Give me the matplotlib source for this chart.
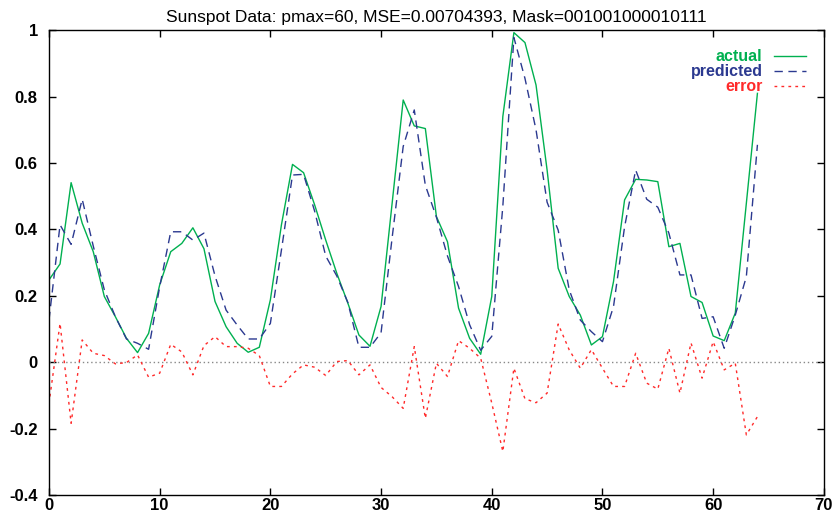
import matplotlib
matplotlib.use("Agg")
import matplotlib.pyplot as plt
from matplotlib.ticker import FuncFormatter

# Sunspot series (x = 0..64)
steps = list(range(65))

actual = [0.248, 0.296, 0.541, 0.419, 0.333, 0.198, 0.137, 0.072, 0.029, 0.087,
          0.233, 0.333, 0.358, 0.405, 0.342, 0.183, 0.107, 0.057, 0.030, 0.045,
          0.188, 0.414, 0.596, 0.571, 0.474, 0.368, 0.268, 0.178, 0.082, 0.048,
          0.168, 0.479, 0.790, 0.712, 0.704, 0.439, 0.363, 0.163, 0.072, 0.024,
          0.198, 0.740, 0.993, 0.963, 0.835, 0.579, 0.283, 0.198, 0.142, 0.052,
          0.077, 0.243, 0.489, 0.551, 0.549, 0.544, 0.348, 0.358, 0.198, 0.180,
          0.079, 0.065, 0.148, 0.479, 0.810]

predicted = [0.127, 0.414, 0.355, 0.491, 0.350, 0.218, 0.137, 0.070, 0.057, 0.039,
             0.227, 0.393, 0.393, 0.368, 0.389, 0.260, 0.157, 0.112, 0.070, 0.070,
             0.117, 0.338, 0.564, 0.566, 0.455, 0.320, 0.260, 0.180, 0.045, 0.045,
             0.089, 0.375, 0.650, 0.760, 0.533, 0.437, 0.320, 0.228, 0.113, 0.036,
             0.078, 0.470, 0.978, 0.855, 0.700, 0.482, 0.398, 0.218, 0.127, 0.092,
             0.062, 0.168, 0.408, 0.579, 0.491, 0.467, 0.389, 0.263, 0.263, 0.132,
             0.137, 0.042, 0.142, 0.258, 0.655]

error = [-0.124, 0.117, -0.184, 0.067, 0.027, 0.020, -0.005, -0.001, 0.022, -0.045,
         -0.033, 0.054, 0.031, -0.038, 0.050, 0.077, 0.047, 0.047, 0.042, 0.020,
         -0.073, -0.073, -0.035, -0.008, -0.015, -0.040, 0.002, 0.005, -0.038, -0.008,
         -0.076, -0.104, -0.139, 0.047, -0.169, -0.003, -0.043, 0.065, 0.042, 0.012,
         -0.123, -0.269, -0.018, -0.110, -0.122, -0.093, 0.115, 0.037, -0.018, 0.038,
         -0.018, -0.073, -0.073, 0.027, -0.063, -0.081, 0.042, -0.093, 0.058, -0.048,
         0.062, -0.023, -0.003, -0.219, -0.164]

x_ticks = [0, 10, 20, 30, 40, 50, 60, 70]
y_ticks = [-0.4, -0.2, 0, 0.2, 0.4, 0.6, 0.8, 1]

title = "Sunspot Data: pmax=60, MSE=0.00704393, Mask=001001000010111"

green = "#00b050"
blue = "#2b3990"
red = "#ff2a2a"

plt.rcParams["font.family"] = ["Liberation Sans", "DejaVu Sans"]
plt.rcParams["axes.unicode_minus"] = False

fig = plt.figure(figsize=(8.33, 5.16), dpi=100)
ax = fig.add_axes([0.0588, 0.0407, 0.989 - 0.0588, 0.9413 - 0.0407])

# zero line
ax.axhline(0, color="#888888", lw=1.0, linestyle=(0, (1, 2)))

ax.plot(steps, actual, color=green, lw=1.0, label="actual")
ax.plot(steps, predicted, color=blue, lw=1.0, linestyle=(0, (6, 4)), label="predicted")
ax.plot(steps, error, color=red, lw=1.0, linestyle=(0, (2, 3)), label="error")

ax.set_xlim(0, 70)
ax.set_ylim(-0.4, 1)
ax.set_xticks(x_ticks)
ax.set_yticks(y_ticks)
ax.yaxis.set_major_formatter(FuncFormatter(lambda v, p: "%g" % round(v, 2)))
ax.tick_params(direction="in", length=5, width=1, top=True, right=True,
               labelsize=12)
ax.tick_params(axis="x", pad=2)
ax.tick_params(axis="y", pad=8)
for lab in ax.get_xticklabels() + ax.get_yticklabels():
    lab.set_fontweight("bold")
for sp in ax.spines.values():
    sp.set_linewidth(1.0)

ax.set_title(title, fontsize=12.5, pad=6)

leg = ax.legend(loc="upper right", bbox_to_anchor=(0.995, 0.99), frameon=False,
                markerfirst=False, handlelength=2.0, handletextpad=0.7,
                labelspacing=0.0, borderaxespad=0.5,
                prop={"weight": "bold", "size": 11.5},
                labelcolor=[green, blue, red])
for t in leg.get_texts():
    t.set_ha("right")

fig.savefig("out.png", dpi=100)
